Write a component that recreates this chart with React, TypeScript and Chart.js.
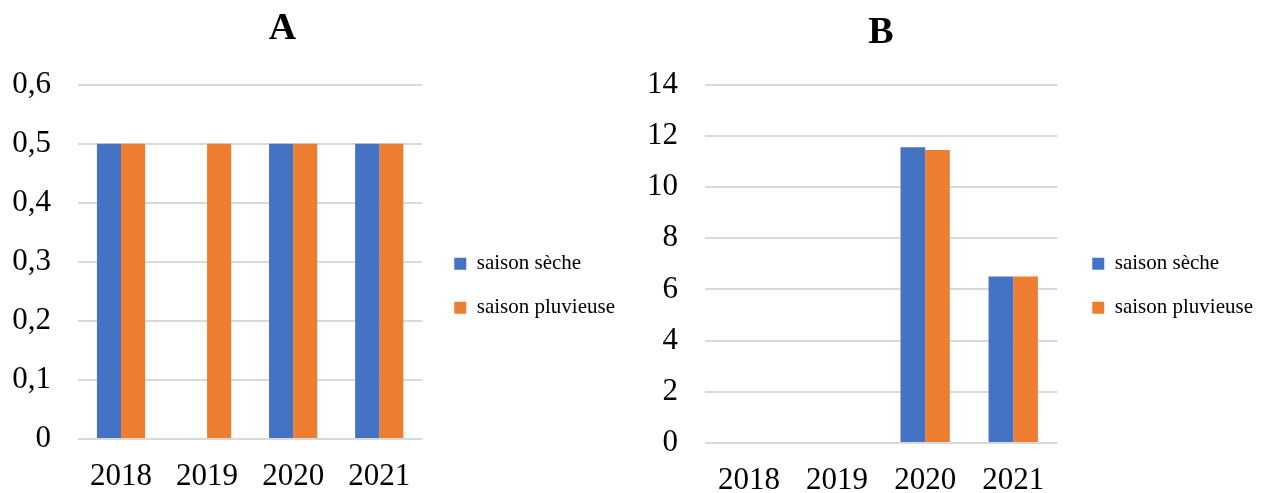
import React, { useEffect, useRef } from 'react';
import { Chart, registerables } from 'chart.js';

Chart.register(...registerables);

// Categories and series
const years = ['2018', '2019', '2020', '2021'];
const seriesNames = ['saison sèche', 'saison pluvieuse'];
const seriesColors = ['#4472C4', '#ED7D31'];

// Panel A values
const dryA = [0.5, 0, 0.5, 0.5];
const rainyA = [0.5, 0.5, 0.5, 0.5];
const yTicksA = ['0', '0,1', '0,2', '0,3', '0,4', '0,5', '0,6'];

// Panel B values
const dryB = [0, 0, 11.55, 6.5];
const rainyB = [0, 0, 11.45, 6.5];
const yTicksB = ['0', '2', '4', '6', '8', '10', '12', '14'];

const FONT = "'Liberation Serif', 'Times New Roman', serif";

type PanelProps = {
  title: string;
  dry: number[];
  rainy: number[];
  yMax: number;
  yStep: number;
  yTicks: string[];
  left: number;
  width: number;
  axisWidth: number;
  axisGap: number;
  xAxisHeight: number;
  titleTop: number;
  titleBottom: number;
  legendOffset: number;
};

function Panel(p: PanelProps) {
  const ref = useRef<HTMLCanvasElement | null>(null);

  useEffect(() => {
    if (!ref.current) return;
    const chart = new Chart(ref.current, {
      type: 'bar',
      data: {
        labels: years,
        datasets: [
          {
            label: seriesNames[0],
            data: p.dry,
            backgroundColor: seriesColors[0],
            borderWidth: 0,
            categoryPercentage: 0.56,
            barPercentage: 1,
          },
          {
            label: seriesNames[1],
            data: p.rainy,
            backgroundColor: seriesColors[1],
            borderWidth: 0,
            categoryPercentage: 0.56,
            barPercentage: 1,
          },
        ],
      },
      options: {
        responsive: false,
        animation: false,
        layout: { padding: 0 },
        plugins: {
          title: {
            display: true,
            text: p.title,
            color: '#000',
            font: { family: FONT, size: 38, weight: 'bold' },
            padding: { top: p.titleTop, bottom: p.titleBottom },
          },
          legend: {
            position: 'right',
            fullSize: false,
            align: 'center',
            maxWidth: 400,
            title: {
              display: true,
              text: '',
              font: { size: 10 },
              padding: { top: p.legendOffset, bottom: 0 },
            },
            labels: {
              boxWidth: 12,
              boxHeight: 12,
              padding: 23,
              color: '#000',
              font: { family: FONT, size: 21 },
            },
          },
          tooltip: { enabled: false },
        },
        scales: {
          x: {
            grid: { display: false },
            border: { display: false },
            ticks: {
              padding: 11,
              maxRotation: 0,
              color: '#000',
              font: { family: FONT, size: 31 },
            },
            afterFit: (s: any) => {
              s.height = p.xAxisHeight;
            },
          },
          y: {
            min: 0,
            max: p.yMax,
            grid: { color: '#d9d9d9', lineWidth: 2, drawTicks: false },
            border: { display: false },
            ticks: {
              stepSize: p.yStep,
              padding: 27,
              color: '#000',
              font: { family: FONT, size: 31 },
              callback: (_v: any, i: number) => p.yTicks[i],
            },
            afterFit: (s: any) => {
              s.width = p.axisWidth;
            },
          },
          gap: {
            type: 'linear',
            position: 'right',
            display: true,
            grid: { display: false },
            border: { display: false },
            ticks: { display: false },
            afterFit: (s: any) => {
              s.width = p.axisGap;
            },
          },
        },
      } as any,
    });
    return () => chart.destroy();
  }, []);

  return (
    <canvas
      ref={ref}
      width={p.width}
      height={493}
      style={{ position: 'absolute', left: p.left, top: 0, width: p.width, height: 493 }}
    />
  );
}

export default function App() {
  return (
    <div
      style={{
        position: 'absolute',
        left: 0,
        top: 0,
        width: 1267,
        height: 493,
        overflow: 'hidden',
        background: '#fff',
      }}
    >
      <Panel
        title="A"
        dry={dryA}
        rainy={rainyA}
        yMax={0.6}
        yStep={0.1}
        yTicks={yTicksA}
        left={-60}
        width={685}
        axisWidth={138}
        axisGap={9}
        xAxisHeight={54}
        titleTop={6.5}
        titleBottom={32.5}
        legendOffset={36}
      />
      <Panel
        title="B"
        dry={dryB}
        rainy={rainyB}
        yMax={14}
        yStep={2}
        yTicks={yTicksB}
        left={499}
        width={764}
        axisWidth={206}
        axisGap={12}
        xAxisHeight={50}
        titleTop={10}
        titleBottom={29}
        legendOffset={32}
      />
    </div>
  );
}
